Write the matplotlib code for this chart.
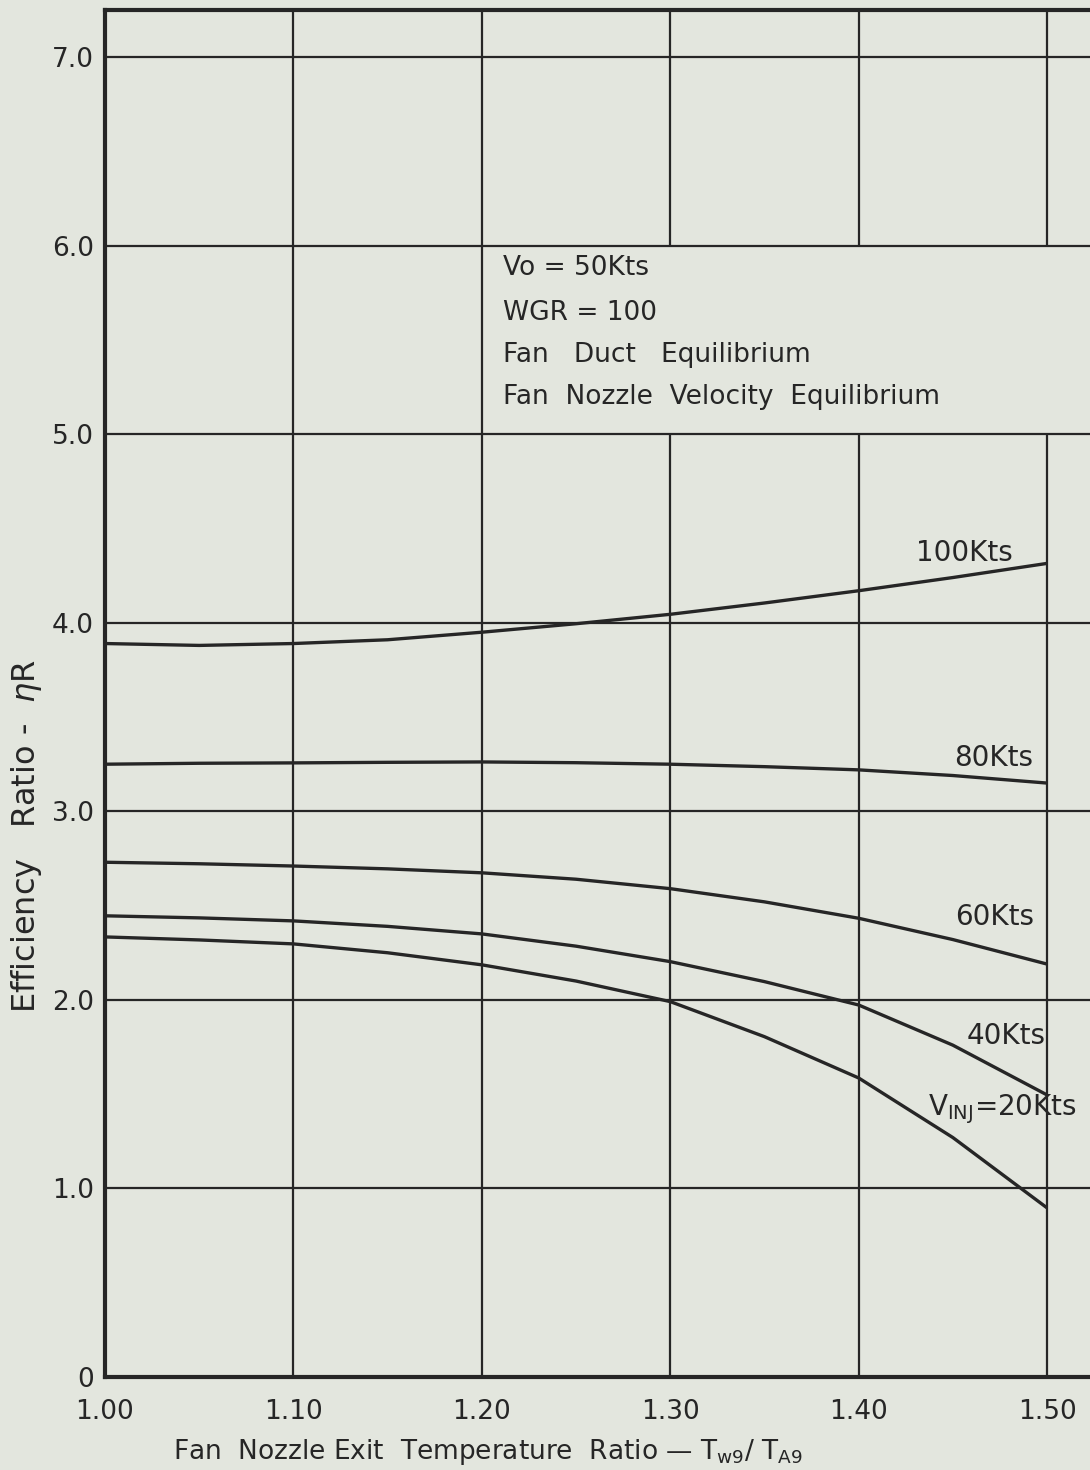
import numpy as np
import matplotlib
matplotlib.use("Agg")
import matplotlib.pyplot as plt

# temperature ratio Tw9/TA9
temp_ratio = [1.00, 1.05, 1.10, 1.15, 1.20, 1.25, 1.30, 1.35, 1.40, 1.45, 1.50]

# efficiency ratio for each injection velocity
eff_100kts = [3.89, 3.88, 3.89, 3.91, 3.95, 3.995, 4.045, 4.105, 4.17, 4.24, 4.315]
eff_80kts = [3.25, 3.255, 3.257, 3.26, 3.262, 3.258, 3.25, 3.237, 3.22, 3.19, 3.15]
eff_60kts = [2.73, 2.722, 2.71, 2.695, 2.674, 2.64, 2.59, 2.52, 2.433, 2.32, 2.19]
eff_40kts = [2.446, 2.435, 2.419, 2.39, 2.35, 2.285, 2.203, 2.097, 1.973, 1.76, 1.496]
eff_20kts = [2.334, 2.318, 2.297, 2.25, 2.186, 2.10, 1.991, 1.805, 1.586, 1.27, 0.897]

x_ticks = [1.00, 1.10, 1.20, 1.30, 1.40, 1.50]
x_tick_labels = ["1.00", "1.10", "1.20", "1.30", "1.40", "1.50"]
y_ticks = [0, 1, 2, 3, 4, 5, 6, 7]
y_tick_labels = ["0", "1.0", "2.0", "3.0", "4.0", "5.0", "6.0", "7.0"]

note_lines = ["Vo = 50Kts", "WGR = 100", "Fan   Duct   Equilibrium",
              "Fan  Nozzle  Velocity  Equilibrium"]

ink = "#262626"
paper = "#e3e6de"
fs = 19
ymax = 7.25

fig = plt.figure(figsize=(10.9, 14.7), dpi=100, facecolor=paper)
ax = fig.add_axes([105 / 1090, 1 - 1377 / 1470, 1 - 105 / 1090, (1377 - 10) / 1470])
ax.set_facecolor(paper)

# grid drawn by hand: the note block is pasted over the 5.0-6.0 band right of 1.20
for yv in y_ticks[1:]:
    ax.axhline(yv, color=ink, lw=1.6, zorder=1)
for xv in x_ticks[1:]:
    if xv > 1.25:
        ax.vlines(xv, 0, 5.0, color=ink, lw=1.6, zorder=1)
        ax.vlines(xv, 6.0, ymax, color=ink, lw=1.6, zorder=1)
    else:
        ax.axvline(xv, color=ink, lw=1.6, zorder=1)

for vals in [eff_100kts, eff_80kts, eff_60kts, eff_40kts, eff_20kts]:
    ax.plot(temp_ratio, vals, color=ink, lw=2.4, solid_capstyle="butt", zorder=3)

ax.set_xlim(1.0, 1.5228)
ax.set_ylim(0, ymax)
ax.set_xticks(x_ticks)
ax.set_xticklabels(x_tick_labels)
ax.set_yticks(y_ticks)
ax.set_yticklabels(y_tick_labels)
ax.tick_params(axis="both", length=0, labelsize=fs, colors=ink)
ax.tick_params(axis="y", pad=8)
ax.tick_params(axis="x", pad=16)

for side in ["left", "bottom", "top"]:
    ax.spines[side].set_color(ink)
    ax.spines[side].set_linewidth(3)
ax.spines["right"].set_visible(False)

# notes block
note_y = [5.883, 5.645, 5.422, 5.199]
for txt, yy in zip(note_lines, note_y):
    ax.text(1.211, yy, txt, fontsize=fs, color=ink, ha="left", va="center")

# curve labels
ax.text(1.482, 4.37, "100Kts", fontsize=fs + 1, color=ink, ha="right", va="center")
ax.text(1.4926, 3.284, "80Kts", fontsize=fs + 1, color=ink, ha="right", va="center")
ax.text(1.493, 2.44, "60Kts", fontsize=fs + 1, color=ink, ha="right", va="center")
ax.text(1.499, 1.809, "40Kts", fontsize=fs + 1, color=ink, ha="right", va="center")
ax.text(1.437, 1.42, r"V$_{\mathrm{INJ}}$=20Kts", fontsize=fs + 1, color=ink,
        ha="left", va="center")

fig.text(488 / 1090, 1 - 1452 / 1470,
         r"Fan  Nozzle Exit  Temperature  Ratio — T$_{\mathrm{w9}}$/ T$_{\mathrm{A9}}$",
         fontsize=fs, color=ink, ha="center", va="center")
fig.text(27 / 1090, 1 - 836 / 1470, r"Efficiency   Ratio -  $\eta$R",
         fontsize=23, color=ink, ha="center", va="center", rotation=90)

fig.savefig("out.png", dpi=100, facecolor=paper)
